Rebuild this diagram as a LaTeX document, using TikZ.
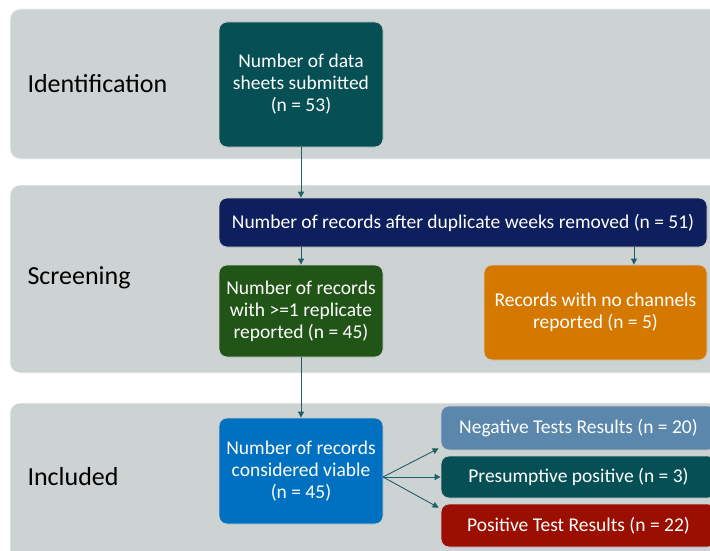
\documentclass[tikz,border=0pt]{standalone}
\usepackage{fontspec}
\setmainfont{Carlito}
\usetikzlibrary{arrows.meta,calc}
\definecolor{panelgray}{HTML}{CDD3D3}
\definecolor{tealbox}{HTML}{064F55}
\definecolor{navybox}{HTML}{0D1F5C}
\definecolor{greenbox}{HTML}{215517}
\definecolor{orangebox}{HTML}{D47800}
\definecolor{bluebox}{HTML}{0070C0}
\definecolor{steelbox}{HTML}{5B87AC}
\definecolor{redbox}{HTML}{9B0E02}
\definecolor{arrowcol}{HTML}{1F5F66}
\begin{document}
\begin{tikzpicture}[x=1pt,y=-1pt,
  panel/.style={fill=panelgray, draw=white!85!panelgray, line width=0.8pt, rounded corners=10pt},
  stage/.style={anchor=west, font=\fontsize{26}{31}\selectfont, text=black},
  box/.style={rectangle, rounded corners=8pt, draw=white!80!black, line width=0.8pt, text=white,
    align=center, inner sep=2pt, font=\fontsize{19.5}{22}\selectfont},
  arr/.style={draw=arrowcol, line width=0.9pt, -{Triangle[length=6pt,width=6pt]}}]
\useasboundingbox (0,0) rectangle (710,551);
% panels
\path[panel] (10,9) rectangle (730,159);
\path[panel] (10,185) rectangle (730,373);
\path[panel] (10,403) rectangle (730,570);
% stage labels
\node[stage] (lid) at (24,84) {Identification};
\node[stage] (lsc) at (24,278) {Screening};
\node[stage] (lin) at (24,477) {Included};
% boxes
\node[box, fill=tealbox, minimum width=164pt, minimum height=125pt] (b1) at (301,84.5)
  {Number of data\\sheets submitted\\(n = 53)};
\node[box, fill=navybox, minimum width=488pt, minimum height=49pt] (nav) at (463,222.5)
  {Number of records after duplicate weeks removed (n = 51)};
\node[box, fill=greenbox, minimum width=164pt, minimum height=92pt] (grn) at (301,311)
  {Number of records\\with >=1 replicate\\reported (n = 45)};
\node[box, fill=orangebox, minimum width=223pt, minimum height=95pt] (org) at (595.5,312.5)
  {Records with no channels\\reported (n = 5)};
\node[box, fill=bluebox, minimum width=164pt, minimum height=106pt] (blu) at (301,471)
  {Number of records\\considered viable\\(n = 45)};
\node[box, fill=steelbox, minimum width=275pt, minimum height=44pt] (neg) at (578.5,428)
  {Negative Tests Results (n = 20)};
\node[box, fill=tealbox, minimum width=275pt, minimum height=42pt] (pre) at (578.5,477)
  {Presumptive positive (n = 3)};
\node[box, fill=redbox, minimum width=275pt, minimum height=43pt] (pos) at (578.5,525.5)
  {Positive Test Results (n = 22)};
% connectors
\coordinate (xo) at (634,0);
\coordinate (bo) at (383,477);
\draw[arr] (b1.south) -- (b1.south |- nav.north);
\draw[arr] (nav.south -| grn.north) -- (grn.north);
\draw[arr] (nav.south -| xo) -- (org.north -| xo);
\draw[arr] (grn.south) -- (blu.north);
\draw[arr] (bo) -- ($(neg.south west)+(-2,-2)$);
\draw[arr] (bo) -- (pre.west);
\draw[arr] (bo) -- ($(pos.north west)+(-2,4)$);
\end{tikzpicture}
\end{document}
